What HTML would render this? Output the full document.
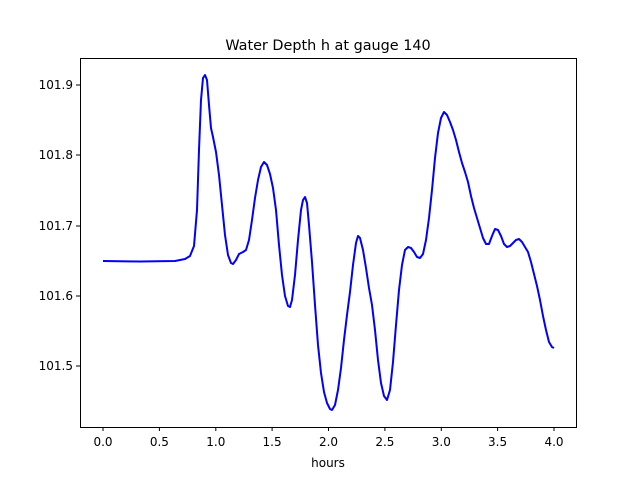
<!DOCTYPE html>
<html><head><style>body{margin:0;background:#fff}</style></head><body>
<svg width="640" height="480" xmlns="http://www.w3.org/2000/svg" font-family="DejaVu Sans, Liberation Sans, sans-serif">
<rect width="640" height="480" fill="#fff"/>
<text x="328" y="50" font-size="14.4" text-anchor="middle">Water Depth h at gauge 140</text>
<path fill="none" stroke="#0000ff" stroke-width="2" stroke-linejoin="round" d="M103,261 L140,261.5 L175,261 L185,259 L190,256 L194,246 L197,210 L199,150 L201,100 L203,78 L205,75 L207,80 L209,105 L211,128 L213,137 L216,152 L219,175 L222,205 L225,235 L228,255 L231,263 L233,264 L236,260 L239,254 L243,252 L246,250 L249,240 L252,220 L255,198 L258,180 L261,167 L264,162 L267,165 L270,174 L273,188 L276,210 L279,245 L282,275 L285,296 L288,306 L290,307 L292,300 L295,275 L298,240 L301,210 L303,200 L305,197 L307,203 L309,225 L312,262 L315,305 L318,345 L321,373 L324,392 L327,403 L330,409 L332,410 L335,405 L338,390 L341,368 L344,340 L347,315 L350,292 L353,265 L356,243 L358,236 L360,238 L363,250 L366,268 L369,288 L372,305 L375,330 L378,360 L381,383 L384,396 L387,400 L390,390 L393,362 L396,325 L399,290 L402,265 L405,250 L408,247 L411,248 L414,252 L417,257 L420,258 L423,254 L426,240 L429,218 L432,190 L435,158 L438,133 L441,118 L444,112 L447,115 L450,122 L453,130 L456,140 L459,152 L462,163 L465,172 L468,182 L471,196 L474,208 L477,218 L480,228 L483,238 L486,244 L489,244 L492,236 L495,229 L498,230 L501,236 L504,244 L507,247 L510,246 L513,243 L516,240 L519,239 L522,242 L525,247 L528,252 L531,262 L534,274 L537,286 L540,300 L543,316 L546,330 L549,342 L552,347 L554,348"/>
<rect x="80.5" y="58.5" width="496" height="369" fill="none" stroke="#000" stroke-width="1"/>
<g stroke="#000" stroke-width="1">
<line x1="103" y1="427" x2="103" y2="431"/><line x1="159.4" y1="427" x2="159.4" y2="431"/><line x1="215.8" y1="427" x2="215.8" y2="431"/><line x1="272.1" y1="427" x2="272.1" y2="431"/><line x1="328.5" y1="427" x2="328.5" y2="431"/><line x1="384.9" y1="427" x2="384.9" y2="431"/><line x1="441.3" y1="427" x2="441.3" y2="431"/><line x1="497.6" y1="427" x2="497.6" y2="431"/><line x1="554" y1="427" x2="554" y2="431"/>
<line x1="76" y1="366" x2="80" y2="366"/><line x1="76" y1="296" x2="80" y2="296"/><line x1="76" y1="226" x2="80" y2="226"/><line x1="76" y1="155" x2="80" y2="155"/><line x1="76" y1="85" x2="80" y2="85"/>
</g>
<g font-size="12" text-anchor="middle">
<text x="103" y="446">0.0</text><text x="159.4" y="446">0.5</text><text x="215.8" y="446">1.0</text><text x="272.1" y="446">1.5</text><text x="328.5" y="446">2.0</text><text x="384.9" y="446">2.5</text><text x="441.3" y="446">3.0</text><text x="497.6" y="446">3.5</text><text x="554" y="446">4.0</text>
<text x="328" y="467">hours</text>
</g>
<g font-size="12" text-anchor="end">
<text x="73" y="370">101.5</text><text x="73" y="300">101.6</text><text x="73" y="230">101.7</text><text x="73" y="159">101.8</text><text x="73" y="89">101.9</text>
</g>
</svg>
</body></html>
